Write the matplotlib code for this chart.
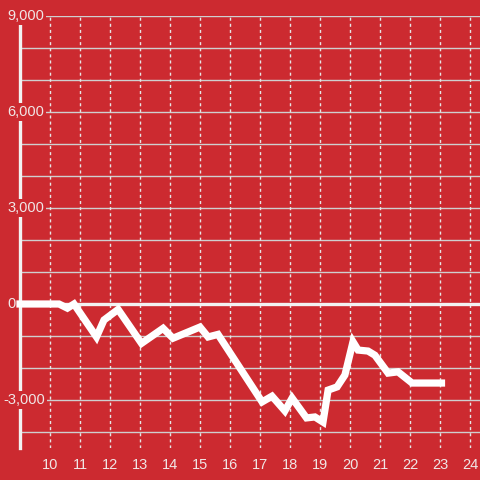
import matplotlib
matplotlib.use("Agg")
import matplotlib.pyplot as plt
import matplotlib.transforms as mtransforms

# data
hours = [9.0, 10.3, 10.58, 10.8, 11.55, 11.8, 12.27, 13.05, 13.77, 14.1,
         15.0, 15.27, 15.6, 17.07, 17.4, 17.83, 18.07, 18.55, 18.83, 19.1,
         19.27, 19.57, 19.83, 20.1, 20.27, 20.6, 20.83, 21.27, 21.6, 22.07, 23.05]
values = [0, 0, -130, 0, -1030, -500, -170, -1230, -760, -1070,
          -720, -1030, -950, -3060, -2880, -3340, -2940, -3560, -3530, -3690,
          -2690, -2590, -2220, -1180, -1440, -1470, -1600, -2160, -2120, -2470, -2470]
x_ticks = list(range(10, 25))
y_grid = list(range(-4000, 9001, 1000))
y_labels = [-3000, 0, 3000, 6000, 9000]

bg = "#cc2a30"
txt = "#f0e6e6"

plt.rcParams['font.family'] = ['Liberation Sans', 'DejaVu Sans']

fig = plt.figure(figsize=(4.8, 4.8), dpi=100, facecolor=bg)
ax = fig.add_axes([20/480, 32/480, 460/480, 432/480], facecolor=bg)
ax.set_xlim(9, 9 + 460/30)
ax.set_ylim(-4500, 9000)

# grid
for yv in y_grid:
    ax.axhline(yv, color="#cfcfcf", lw=1, zorder=1)
for xv in x_ticks:
    ax.axvline(xv, color="#e6e6e6", lw=1, ls=(0, (2.2, 2.2)), zorder=1)
ax.axhline(0, color="#f2f2f2", lw=2.4, zorder=2)

for s in ["top", "right", "bottom"]:
    ax.spines[s].set_visible(False)
ax.spines["left"].set_color("#f2f2f2")
ax.spines["left"].set_linewidth(2.4)
ax.spines["left"].set_zorder(2)

ax.set_xticks(x_ticks)
ax.set_xticklabels([str(v) for v in x_ticks])
ax.set_yticks([])
ax.tick_params(axis="x", length=0, pad=7, labelsize=10.5, labelcolor=txt)

# y labels sit inside the plot with a background box
trans = mtransforms.blended_transform_factory(fig.transFigure, ax.transData)
for yv in y_labels:
    lab = f"{yv:,}"
    left = 3 if lab.startswith("-") else 7
    ax.text(left/480, yv, lab, transform=trans, ha="left", va="center",
            fontsize=10.5, color=txt, zorder=3, clip_on=False,
            bbox=dict(facecolor=bg, edgecolor="none", pad=1.5))

ax.plot(hours, values, color="white", lw=5.2, solid_capstyle="projecting",
        solid_joinstyle="miter", zorder=4, clip_on=False)

fig.savefig("out.png", dpi=100, facecolor=bg)
